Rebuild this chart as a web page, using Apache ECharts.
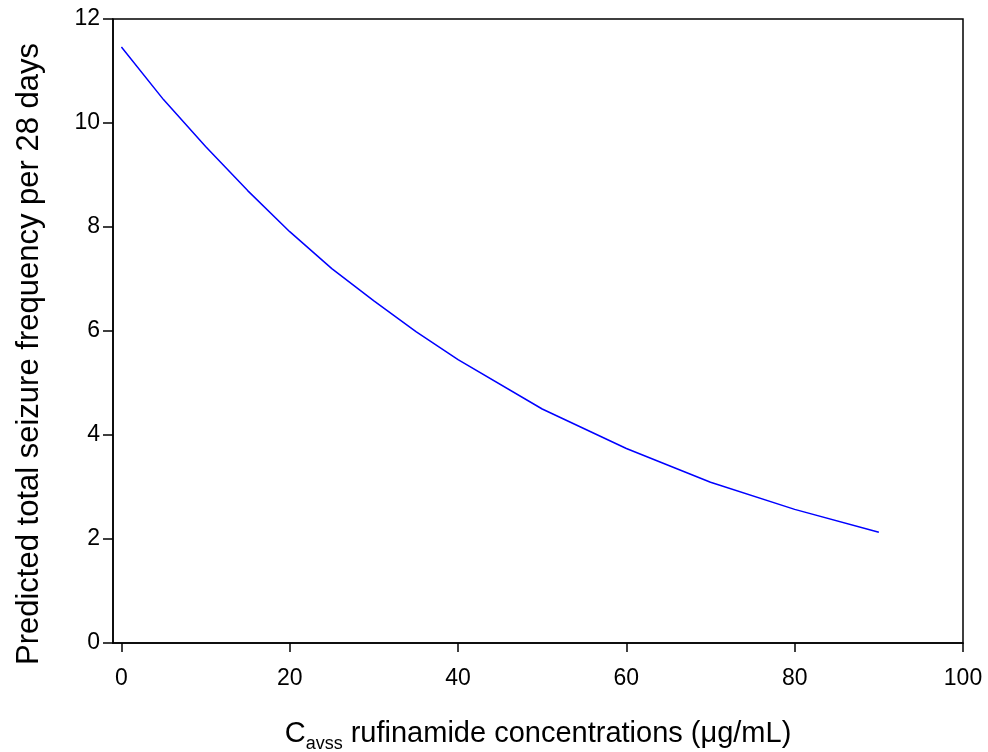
<!DOCTYPE html>
<html>
<head>
<meta charset="utf-8">
<script src="https://cdn.jsdelivr.net/npm/echarts@6/dist/echarts.min.js"></script>
<style>html,body{margin:0;padding:0;background:#fff;}#c{width:988px;height:752px;}</style>
</head>
<body>
<div id="c"></div>
<script>
// Data
var concentrations = [0, 5, 10, 15, 20, 25, 30, 35, 40, 50, 60, 70, 80, 90];
var seizureFreq = [11.46, 10.45, 9.55, 8.70, 7.91, 7.20, 6.58, 5.99, 5.45, 4.50, 3.74, 3.09, 2.57, 2.13];
var xTicks = [0, 20, 40, 60, 80, 100];
var yTicks = [0, 2, 4, 6, 8, 10, 12];

var points = concentrations.map(function (c, i) { return [c, seizureFreq[i]]; });
var font = '"Liberation Sans", Arial, sans-serif';
var chart = echarts.init(document.getElementById('c'), null, {renderer: 'canvas'});
chart.setOption({
  animation: false,
  backgroundColor: '#ffffff',
  grid: {left: 113, right: 25, top: 19, bottom: 109, show: true, borderColor: '#000', borderWidth: 1.5,
         backgroundColor: 'transparent', containLabel: false, outerBoundsMode: 'none'},
  xAxis: {
    type: 'value', min: -1, max: 100,
    name: '{m|C}{s|avss}{m| rufinamide concentrations (μg/mL)}',
    nameLocation: 'middle', nameGap: 74,
    nameTextStyle: {
      rich: {
        m: {fontFamily: font, fontSize: 29, color: '#000', lineHeight: 34},
        s: {fontFamily: font, fontSize: 18, color: '#000', lineHeight: 34, padding: [20, 0, 0, 0]}
      }
    },
    axisLine: {show: true, onZero: false, lineStyle: {color: '#000', width: 1.5}},
    axisTick: {show: true, inside: false, length: 9, customValues: xTicks, lineStyle: {color: '#000', width: 1.5}},
    axisLabel: {customValues: xTicks, margin: 24, fontFamily: font, fontSize: 23, color: '#000'},
    splitLine: {show: false}
  },
  yAxis: {
    type: 'value', min: 0, max: 12, interval: 2,
    name: 'Predicted total seizure frequency per 28 days',
    nameLocation: 'middle', nameGap: 68,
    nameTextStyle: {fontFamily: font, fontSize: 31, color: '#000', padding: [0, 46, 0, 0]},
    axisLine: {show: true, onZero: false, lineStyle: {color: '#000', width: 1.5}},
    axisTick: {show: true, inside: false, length: 10, lineStyle: {color: '#000', width: 1.5}},
    axisLabel: {margin: 13, fontFamily: font, fontSize: 23, color: '#000'},
    splitLine: {show: false}
  },
  series: [{
    type: 'line', data: points, showSymbol: false, symbol: 'none', smooth: false,
    lineStyle: {color: '#0000ff', width: 1.5}
  }]
});
</script>
</body>
</html>
